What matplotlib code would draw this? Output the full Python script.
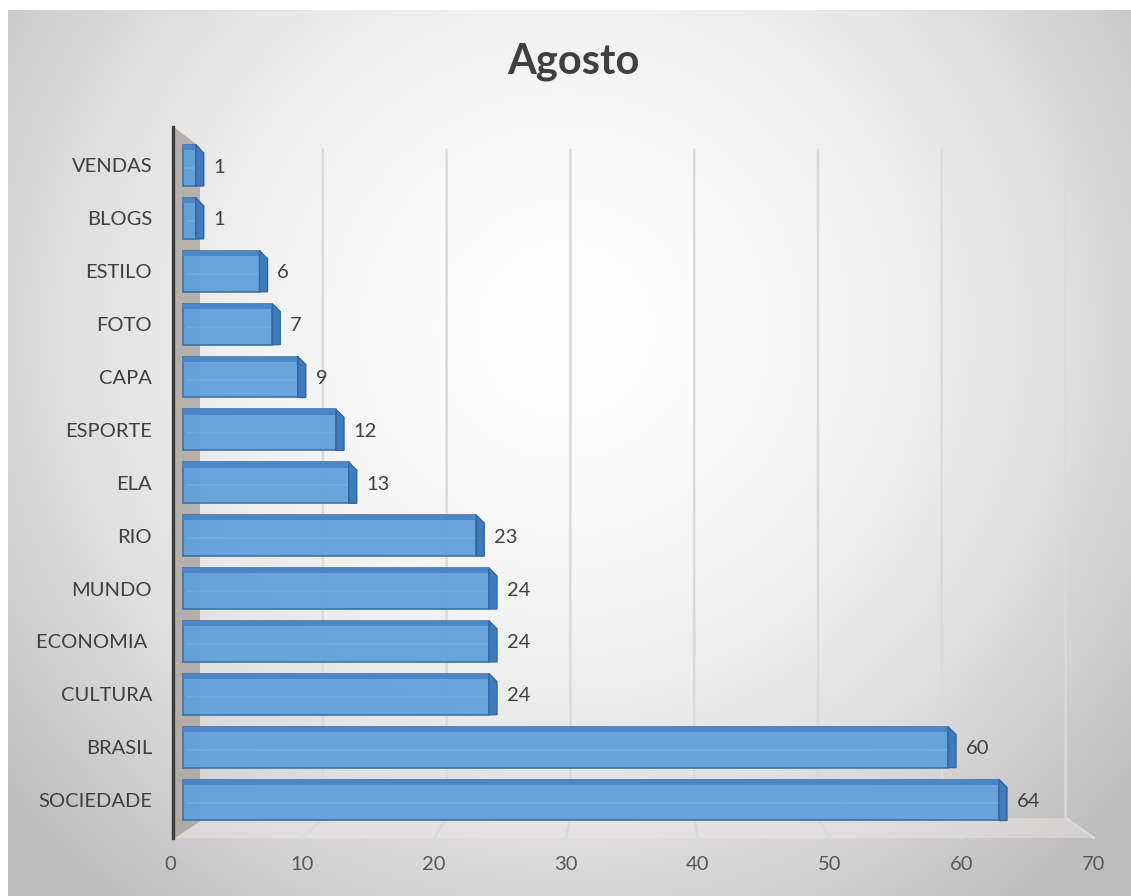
import numpy as np
import matplotlib
matplotlib.use("Agg")
import matplotlib.pyplot as plt
from matplotlib.patches import Polygon, Rectangle
from matplotlib.transforms import Affine2D

plt.rcParams['font.family'] = ['Lato', 'DejaVu Sans']

# data (top to bottom as shown)
categories = ["VENDAS", "BLOGS", "ESTILO", "FOTO", "CAPA", "ESPORTE", "ELA",
              "RIO", "MUNDO", "ECONOMIA ", "CULTURA", "BRASIL", "SOCIEDADE"]
values = [1, 1, 6, 7, 9, 12, 13, 23, 24, 24, 24, 60, 64]
x_ticks = [0, 10, 20, 30, 40, 50, 60, 70]
title = "Agosto"

W, H = 1131, 896
fig = plt.figure(figsize=(W / 100, H / 100), dpi=100, facecolor="white")
# pixel coords measured from the top-left corner
pix = Affine2D().scale(1 / W, -1 / H).translate(0, 1) + fig.transFigure

# radial gradient background
bg = fig.add_axes([8 / W, 0, 1 - 8 / W, 1 - 10 / H])
bg.set_zorder(-10)
bg.axis("off")
yy, xx = np.mgrid[10:H, 8:W]
r2 = ((xx - 565) / 560.0) ** 2 + ((yy - 330) / 560.0) ** 2
shade = np.clip(253 - 38 * r2, 190, 253) / 255.0
bg.imshow(np.dstack([shade, shade, shade]), aspect="auto", extent=[0, 1, 0, 1])
bg.set_xlim(0, 1)
bg.set_ylim(0, 1)

# side wall and floor (decorative 3D look), kept behind the bars
fig.patches.append(Polygon([(175, 128), (200, 147), (200, 822), (175, 838)],
                           closed=True, transform=pix, facecolor="#aca69f",
                           edgecolor="none", alpha=0.85, zorder=-2))
fig.patches.append(Polygon([(175, 838), (200, 821), (1066, 818), (1094, 838)],
                           closed=True, transform=pix, facecolor="#efebe7",
                           edgecolor="none", alpha=0.45, zorder=-2))

# gridlines: back plane -> floor to front plane
for v in x_ticks[1:]:
    xb = 199 + 12.38 * v
    xf = 170 + 13.2 * v
    fig.lines.append(plt.Line2D([xb, xb, xf], [150, 818, 838], transform=pix,
                                color="#dadada", lw=1.8, zorder=-1))

# wall edge line
fig.lines.append(plt.Line2D([173, 173], [127, 838], transform=pix,
                            color="#3c3c3c", lw=2.4, zorder=-1))

# main axes (bars)
x0_px, scale = 183, 12.75
ax = fig.add_axes([173 / W, 58 / H, (1100 - 173) / W, (838 - 127) / H])
ax.set_facecolor("none")
ax.set_xlim((173 - x0_px) / scale, (1100 - x0_px) / scale)
ax.set_ylim((838 - 165.5) / 52.875, (127 - 165.5) / 52.875)
for s in ax.spines.values():
    s.set_visible(False)

ypos = np.arange(len(categories))
h = 0.775
cap_w = 8 / scale
cap_h = 8 / 52.875
ax.barh(ypos, values, height=h, color="#62a0dc", edgecolor="#3a6ea8",
        linewidth=1.2, alpha=0.95, zorder=3)
for y, v in zip(ypos, values):
    top, bot = y - h / 2, y + h / 2
    ax.add_patch(Rectangle((0, top), v, 0.1, facecolor="#4b87c7",
                           edgecolor="none", zorder=4))
    ax.plot([0.3, v], [y + 0.05, y + 0.05], color="#7cb2e6", lw=1.2,
            alpha=0.6, zorder=4)
    ax.add_patch(Polygon([(v, top), (v + cap_w, top + cap_h), (v + cap_w, bot),
                          (v, bot)], closed=True, facecolor="#3f7bbd",
                         edgecolor="#33659e", lw=1.0, zorder=5))
    ax.text(v + 1.4, y + 0.03, str(v), ha="left", va="center",
            fontsize=14.5, color="#404040", zorder=6)

ax.set_xticks([])
ax.set_yticks(ypos)
ax.set_yticklabels(categories, fontsize=14.5, color="#404040")
ax.tick_params(axis="y", length=0, pad=15)

# front-plane axis for value tick labels
tax = fig.add_axes([170 / W, 1 - 853 / H, (1094 - 170) / W, 0.001])
tax.set_facecolor("none")
tax.set_xlim(0, 70)
tax.set_yticks([])
tax.set_xticks(x_ticks)
tax.set_xticklabels([str(t) for t in x_ticks], fontsize=14.5, color="#595959")
tax.tick_params(axis="x", length=0, pad=2)
for s in tax.spines.values():
    s.set_visible(False)

fig.text(573 / W, 1 - 62 / H, title, ha="center", va="center", fontsize=30,
         fontweight="bold", color="#404040")

fig.savefig("out.png", dpi=100, facecolor="white")
